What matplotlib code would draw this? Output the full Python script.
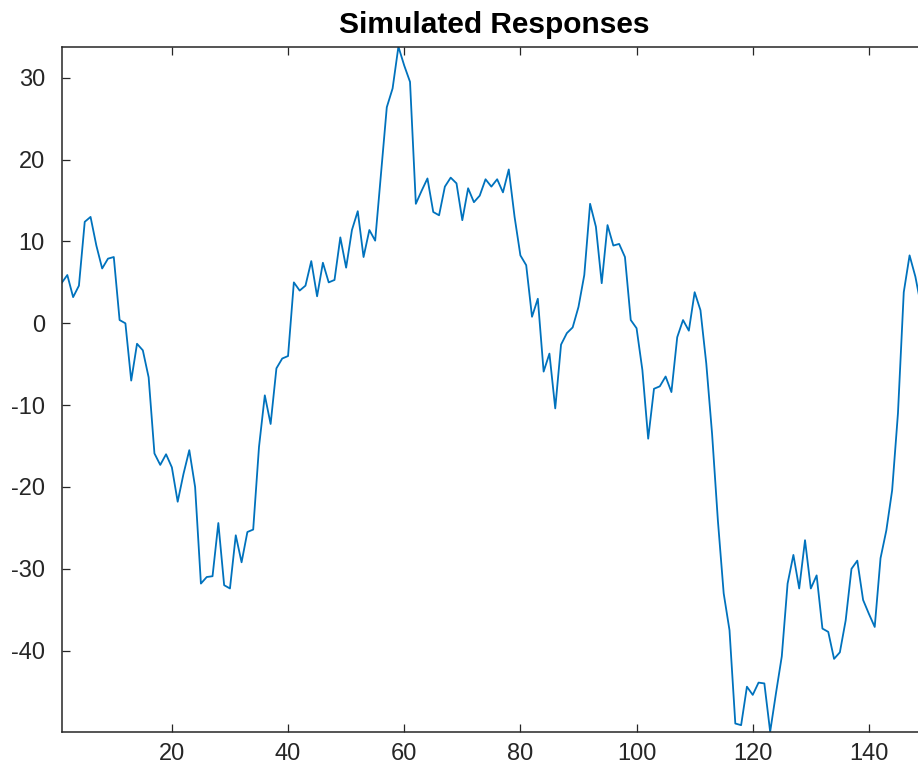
import numpy as np
import matplotlib
matplotlib.use("Agg")
import matplotlib.pyplot as plt

# simulated response values (index 1..150)
steps = np.arange(1, 151)
response = [
    4.9, 5.9, 3.2, 4.6, 12.4, 13.0, 9.5, 6.7, 7.9, 8.1,
    0.4, 0.0, -7.0, -2.5, -3.3, -6.6, -15.9, -17.3, -16.0, -17.6,
    -21.8, -18.4, -15.5, -20.0, -31.8, -31.0, -30.9, -24.4, -32.0, -32.4,
    -25.9, -29.2, -25.5, -25.2, -15.1, -8.8, -12.3, -5.5, -4.3, -4.0,
    5.0, 4.0, 4.6, 7.6, 3.3, 7.4, 5.0, 5.3, 10.5, 6.8,
    11.4, 13.7, 8.1, 11.4, 10.1, 18.2, 26.4, 28.7, 33.8, 31.5,
    29.5, 14.6, 16.2, 17.7, 13.6, 13.2, 16.7, 17.8, 17.1, 12.6,
    16.5, 14.8, 15.6, 17.6, 16.7, 17.6, 16.0, 18.8, 13.0, 8.3,
    7.1, 0.8, 3.0, -5.9, -3.7, -10.4, -2.6, -1.2, -0.5, 2.0,
    5.9, 14.6, 11.8, 4.9, 12.0, 9.5, 9.7, 8.1, 0.4, -0.6,
    -5.7, -14.1, -8.0, -7.7, -6.5, -8.4, -1.7, 0.4, -0.9, 3.8,
    1.6, -4.9, -13.5, -24.1, -33.0, -37.5, -48.9, -49.1, -44.4, -45.4,
    -43.9, -44.0, -49.9, -45.2, -40.7, -31.8, -28.3, -32.4, -26.5, -32.4,
    -30.8, -37.3, -37.7, -41.0, -40.2, -36.3, -30.0, -29.0, -33.8, -35.5,
    -37.1, -28.7, -25.3, -20.4, -11.0, 3.8, 8.3, 5.7, 2.0, -1.0,
]
xticks = [20, 40, 60, 80, 100, 120, 140]
yticks = [-40, -30, -20, -10, 0, 10, 20, 30]

plt.rcParams['font.family'] = ['Liberation Sans', 'DejaVu Sans']
plt.rcParams['axes.unicode_minus'] = False

fig = plt.figure(figsize=(9.18, 7.78), dpi=100)
ax = fig.add_axes([0.067, 0.0595, 0.9428, 0.8805])

ax.plot(steps, response, color='#0072BD', linewidth=1.3)

ax.set_xlim(1, 150)
ax.set_ylim(min(response), max(response))
ax.set_xticks(xticks)
ax.set_yticks(yticks)

axis_color = '#262626'
for side in ax.spines.values():
    side.set_color(axis_color)
    side.set_linewidth(1.1)
ax.tick_params(direction='in', top=True, right=True, length=6,
               width=0.9, color=axis_color, labelcolor=axis_color,
               labelsize=17)
ax.tick_params(axis='y', pad=12)
ax.tick_params(axis='x', pad=8)

ax.set_title("Simulated Responses", fontsize=21.5, fontweight='bold',
             color='black', pad=10)

fig.savefig("out.png", dpi=100)
